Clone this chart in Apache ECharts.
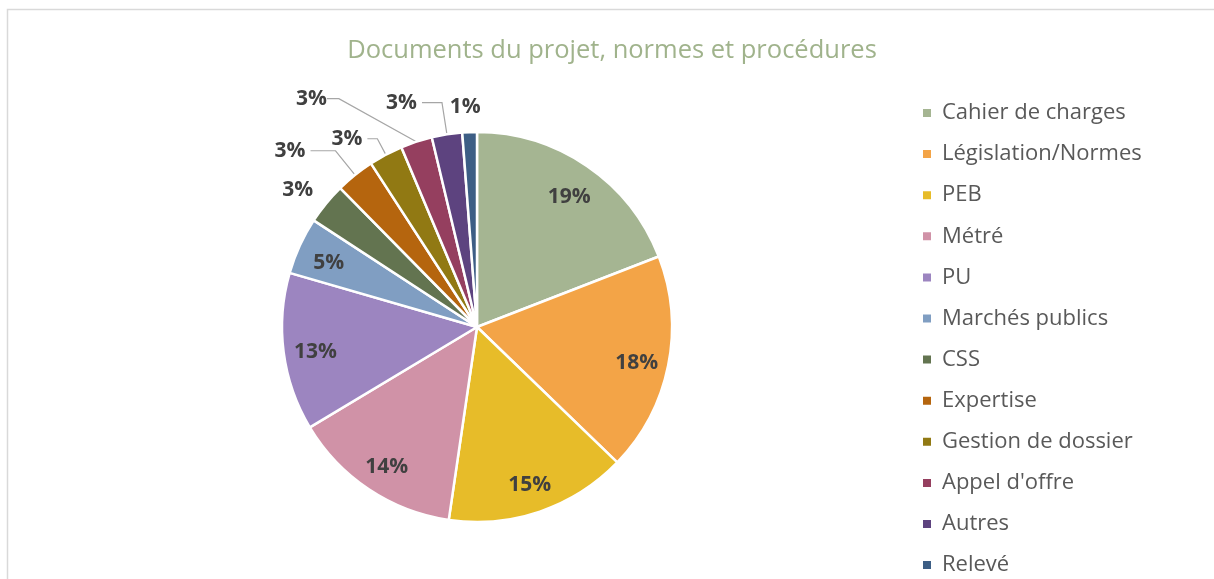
<!doctype html>
<html lang="fr">
<head>
    <meta charset="utf-8">
    <title>Documents du projet, normes et procédures</title>
    <script src="https://cdn.jsdelivr.net/npm/echarts@6/dist/echarts.min.js"></script>
    <style>
        html, body { margin: 0; padding: 0; background: #fff; }
        #chart { width: 1214px; height: 579px; }
    </style>
</head>
<body>
    <div id="chart"></div>
    <script type="text/javascript">
        var categories = ['Cahier de charges', 'Législation/Normes', 'PEB', 'Métré', 'PU', 'Marchés publics',
            'CSS', 'Expertise', 'Gestion de dossier', "Appel d'offre", 'Autres', 'Relevé'];
        var values = [19, 18, 15, 14, 13, 4.7, 3.4, 3.2, 2.8, 2.6, 2.5, 1.2];
        var colors = ['#A5B592', '#F3A447', '#E7BC29', '#D092A7', '#9C85C0', '#809EC2',
            '#637450', '#B5650E', '#917913', '#953F5F', '#5D437F', '#3D5E85'];

        // labels of the small slices sit outside, with leader lines
        var outsideLines = {
            'CSS': { show: false, length: 22, length2: 0 },
            'Expertise': { show: true, length: 31, length2: 25 },
            'Gestion de dossier': { show: true, length: 18, length2: 10 },
            "Appel d'offre": { show: true, length: 21, length2: 12 },
            'Autres': { show: true, length: 32, length2: 20 },
            'Relevé': { show: false, length: 25, length2: 0 }
        };
        // small nudges of a few outside labels (Excel had moved them by hand)
        var labelNudge = {
            'CSS': { dx: 9 },
            "Appel d'offre": { dx: -66, dy: -23, redraw: true },
            'Relevé': { dx: 17 }
        };

        var pieData = categories.map(function (name, i) {
            return { name: name, value: values[i], itemStyle: { color: colors[i] } };
        });
        var labelData = categories.map(function (name, i) {
            var item = { name: name, value: values[i] };
            if (outsideLines[name]) {
                item.label = { position: 'outside', offset: [0, 0] };
                item.labelLine = outsideLines[name];
            }
            return item;
        });

        var chart = echarts.init(document.getElementById('chart'));
        chart.setOption({
            animation: false,
            color: colors,
            graphic: [{
                type: 'rect',
                shape: { x: 7.5, y: 9.5, width: 1300, height: 700 },
                style: { fill: 'none', stroke: '#d9d9d9', lineWidth: 1.5 },
                silent: true
            }],
            title: {
                text: 'Documents du projet, normes et procédures',
                left: 607,
                textAlign: 'center',
                top: 33,
                textStyle: { fontFamily: 'Open Sans', fontSize: 25.5, fontWeight: 'normal', color: '#A0B38C' }
            },
            legend: {
                orient: 'vertical',
                left: 916,
                top: 96,
                height: 520,
                itemWidth: 10,
                itemHeight: 10,
                itemGap: 17.1,
                icon: 'rect',
                data: categories,
                textStyle: {
                    fontFamily: 'Open Sans', fontSize: 22, color: '#595959',
                    lineHeight: 24, padding: [0, 0, 0, 5]
                }
            },
            series: [{
                name: 'Documents',
                type: 'pie',
                center: [477, 327],
                radius: [0, 195],
                startAngle: 90,
                clockwise: true,
                label: { show: false },
                labelLine: { show: false },
                itemStyle: { borderColor: '#ffffff', borderWidth: 2.5 },
                emphasis: { disabled: true },
                data: pieData
            }, {
                name: 'Étiquettes',
                type: 'pie',
                center: [477, 327],
                radius: [125, 195],
                startAngle: 90,
                clockwise: true,
                silent: true,
                avoidLabelOverlap: false,
                itemStyle: { color: 'rgba(0,0,0,0)', borderWidth: 0 },
                label: {
                    show: true,
                    position: 'inside',
                    offset: [0, 4],
                    fontFamily: 'Open Sans',
                    fontSize: 21,
                    fontWeight: 'bold',
                    color: '#404040',
                    formatter: function (p) { return Math.round(p.percent) + '%'; }
                },
                labelLine: { show: false, lineStyle: { color: '#a6a6a6', width: 1.2 } },
                labelLayout: function (params) {
                    var nudge = labelNudge[categories[params.dataIndex]];
                    if (!nudge) return {};
                    if (nudge.redraw) {
                        // setting x/y lets ECharts redraw the leader line towards the moved label
                        var r = params.labelRect;
                        return { x: r.x + r.width + nudge.dx, y: r.y + r.height / 2 + nudge.dy };
                    }
                    return nudge;
                },
                emphasis: { disabled: true },
                data: labelData
            }]
        });
    </script>
</body>
</html>
